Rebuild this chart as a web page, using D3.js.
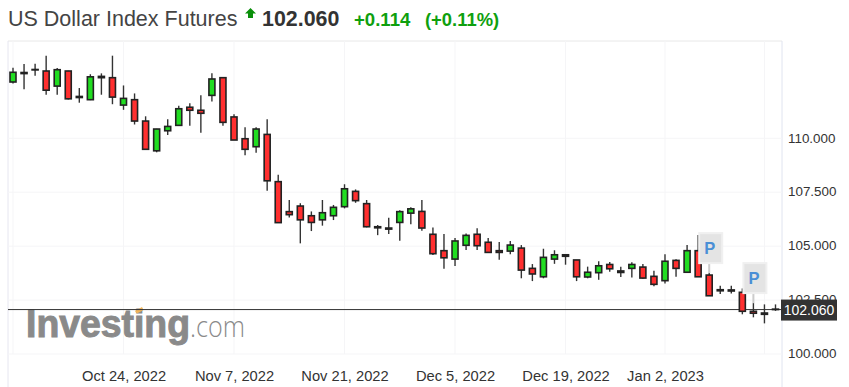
<!DOCTYPE html>
<html>
<head>
<meta charset="utf-8">
<script src="https://cdn.jsdelivr.net/npm/d3@7"></script>
<style>
  body { margin: 0; background: #fff; font-family: "Liberation Sans", Arial, sans-serif; }
</style>
</head>
<body>
<div id="wrapper"></div>
<script>
// one entry per trading day
const dates = ["Oct 10, 2022","Oct 11, 2022","Oct 12, 2022","Oct 13, 2022","Oct 14, 2022","Oct 17, 2022","Oct 18, 2022","Oct 19, 2022","Oct 20, 2022","Oct 21, 2022",
  "Oct 24, 2022","Oct 25, 2022","Oct 26, 2022","Oct 27, 2022","Oct 28, 2022","Oct 31, 2022","Nov 1, 2022","Nov 2, 2022","Nov 3, 2022","Nov 4, 2022",
  "Nov 7, 2022","Nov 8, 2022","Nov 9, 2022","Nov 10, 2022","Nov 11, 2022","Nov 14, 2022","Nov 15, 2022","Nov 16, 2022","Nov 17, 2022","Nov 18, 2022",
  "Nov 21, 2022","Nov 22, 2022","Nov 23, 2022","Nov 24, 2022","Nov 25, 2022","Nov 28, 2022","Nov 29, 2022","Nov 30, 2022","Dec 1, 2022","Dec 2, 2022",
  "Dec 5, 2022","Dec 6, 2022","Dec 7, 2022","Dec 8, 2022","Dec 9, 2022","Dec 12, 2022","Dec 13, 2022","Dec 14, 2022","Dec 15, 2022","Dec 16, 2022",
  "Dec 19, 2022","Dec 20, 2022","Dec 21, 2022","Dec 22, 2022","Dec 23, 2022","Dec 27, 2022","Dec 28, 2022","Dec 29, 2022","Dec 30, 2022",
  "Jan 2, 2023","Jan 3, 2023","Jan 4, 2023","Jan 5, 2023","Jan 6, 2023","Jan 9, 2023","Jan 10, 2023","Jan 11, 2023","Jan 12, 2023","Jan 16, 2023","Jan 17, 2023"];

const opens = [112.61,113.00,113.19,113.12,112.42,113.12,111.94,111.79,112.87,112.81,
  111.54,111.79,110.80,109.42,110.35,110.60,111.44,111.30,111.99,112.81,
  110.99,109.98,109.61,110.18,107.99,106.60,106.86,106.41,106.22,106.41,
  106.83,107.54,106.97,105.90,105.84,106.10,106.53,106.61,105.55,104.79,
  104.40,105.04,105.55,105.18,104.79,104.77,104.91,103.97,103.58,104.40,
  104.60,104.36,103.57,103.77,104.15,103.85,103.97,104.03,103.60,
  103.40,104.34,103.79,104.79,103.66,102.98,102.97,102.86,101.98,101.90,102.08];
const highs = [113.27,113.44,113.46,113.83,113.26,113.13,112.33,112.97,113.01,113.83,
  112.45,112.08,111.02,110.44,110.88,111.51,111.63,112.00,113.01,112.81,
  111.12,110.51,110.51,110.88,108.31,107.14,106.99,106.61,107.14,106.91,
  107.87,107.63,107.14,105.98,106.32,106.67,106.80,107.14,105.87,105.56,
  105.38,105.59,105.83,105.38,105.19,105.24,105.05,104.17,104.88,104.81,
  104.62,104.36,104.05,104.30,104.26,104.05,104.25,104.17,103.86,
  104.63,104.39,105.05,105.52,103.75,103.16,103.16,103.04,102.36,102.30,102.30];
const lows = [112.54,112.27,112.90,112.02,112.02,111.80,111.65,111.77,112.02,111.58,
  111.32,110.64,109.49,109.35,110.15,110.58,110.58,110.26,111.71,110.58,
  109.92,109.21,109.33,107.57,106.09,106.33,105.13,105.70,105.95,106.21,
  106.75,107.01,105.87,105.51,105.56,105.25,106.01,105.71,104.59,103.95,
  104.08,104.82,104.82,104.69,104.37,104.63,103.51,103.38,103.51,104.18,
  104.14,103.38,103.51,103.44,103.81,103.57,103.55,103.49,103.14,
  103.27,103.58,103.77,103.58,102.70,102.78,102.81,101.84,101.70,101.42,102.00];
const closes = [113.06,113.05,113.17,112.23,113.18,111.83,111.89,112.85,112.81,111.91,
  111.85,110.80,109.49,110.43,110.55,111.37,111.30,111.16,112.75,110.74,
  109.92,109.49,110.43,108.03,106.09,106.46,106.22,106.10,106.55,106.80,
  107.66,107.11,105.90,105.85,105.79,106.60,106.73,105.84,104.65,104.46,
  105.24,105.50,105.02,104.71,104.71,105.05,103.89,103.71,104.48,104.60,
  104.53,103.58,103.79,104.09,103.95,103.78,104.15,103.52,103.23,
  104.30,103.97,104.79,103.58,102.70,102.93,102.92,101.98,101.89,101.84,102.06];

const priceTicks = [100, 102.5, 105, 107.5, 110];
const dateTicks = ["Oct 24, 2022","Nov 7, 2022","Nov 21, 2022","Dec 5, 2022","Dec 19, 2022","Jan 2, 2023"];
const gridOnlyDates = ["Oct 10, 2022","Jan 16, 2023"];
const pinDates = ["Jan 6, 2023","Jan 12, 2023"];
const lastPrice = 102.06;

const width = 849, height = 387;
const plot = { left: 8, top: 41, right: 782, bottom: 354 };

const svg = d3.select("#wrapper").append("svg")
  .attr("width", width)
  .attr("height", height)
  .style("display", "block");

const x = d3.scalePoint().domain(dates).range([13, 775.5]);
const y = d3.scaleLinear().domain([100, 110]).range([plot.bottom, 138.3]);

// header
const title = svg.append("g").attr("font-family", '"Liberation Sans", Arial, sans-serif');
title.append("text").attr("x", 8).attr("y", 26).attr("font-size", 21.5).attr("fill", "#444")
  .text("US Dollar Index Futures");
title.append("path").attr("d", "M245 13.5L250.5 8L256 13.5H253V18H248V13.5Z").attr("fill", "#0a8f0a");
title.append("text").attr("x", 262).attr("y", 26).attr("font-size", 21.4).attr("font-weight", "bold").attr("fill", "#333")
  .text("102.060");
title.append("text").attr("x", 354).attr("y", 26).attr("font-size", 18.6).attr("font-weight", "bold").attr("fill", "#0ea00e")
  .text("+0.114");
title.append("text").attr("x", 425).attr("y", 26).attr("font-size", 18.4).attr("font-weight", "bold").attr("fill", "#0ea00e")
  .text("(+0.11%)");

// frame
svg.append("line").attr("x1", plot.left).attr("x2", plot.right).attr("y1", plot.top).attr("y2", plot.top)
  .attr("stroke", "#e8e8e8").attr("stroke-width", 1);
svg.append("line").attr("x1", plot.left).attr("x2", plot.left).attr("y1", plot.top).attr("y2", height)
  .attr("stroke", "#e6e6f0").attr("stroke-width", 1);
svg.append("line").attr("x1", plot.right).attr("x2", plot.right).attr("y1", plot.top).attr("y2", height)
  .attr("stroke", "#e0e4f0").attr("stroke-width", 1);

// grid
svg.append("g").selectAll("line")
  .data(priceTicks)
  .enter().append("line")
    .attr("x1", plot.left).attr("x2", plot.right)
    .attr("y1", (d) => y(d)).attr("y2", (d) => y(d))
    .attr("stroke", "#f5f5f7");
svg.append("g").selectAll("line")
  .data(dateTicks.concat(gridOnlyDates))
  .enter().append("line")
    .attr("x1", (d) => x(d)).attr("x2", (d) => x(d))
    .attr("y1", plot.top).attr("y2", plot.bottom)
    .attr("stroke", "#f5f5f7");

// watermark
const logo = svg.append("g");
logo.append("text").attr("x", 26).attr("y", 337)
  .attr("font-family", '"Liberation Sans", sans-serif').attr("font-weight", 700).attr("font-size", 38)
  .attr("textLength", 164).attr("lengthAdjust", "spacingAndGlyphs")
  .attr("fill", "#8a8a8a").attr("stroke", "#8a8a8a").attr("stroke-width", 1).text("Investing");
logo.append("path").attr("d", "M135 311L142 307L143.5 310L137 313.5Z").attr("fill", "#f0b45a");
logo.append("text").attr("x", 190).attr("y", 337)
  .attr("font-family", '"Open Sans", sans-serif').attr("font-weight", 300).attr("font-size", 30)
  .attr("textLength", 55).attr("lengthAdjust", "spacingAndGlyphs")
  .attr("fill", "#8a8a8a").text(".com");

// axes
const yAxis = svg.append("g")
  .attr("transform", `translate(${plot.right}, 0)`)
  .call(d3.axisRight(y).tickValues(priceTicks).tickSize(0).tickPadding(6).tickFormat(d3.format(".3f")));
yAxis.select(".domain").remove();
yAxis.selectAll("text")
  .attr("font-family", '"Liberation Sans", Arial, sans-serif').attr("font-size", 13.4).attr("fill", "#333")
  .attr("dy", "0.28em");

const xAxis = svg.append("g")
  .attr("transform", `translate(0, 371)`)
  .call(d3.axisBottom(x).tickValues(dateTicks).tickSize(0).tickPadding(0));
xAxis.select(".domain").remove();
xAxis.selectAll("text")
  .attr("font-family", '"Liberation Sans", Arial, sans-serif').attr("font-size", 14.7).attr("fill", "#333");

// last price line, under the candles
svg.append("line")
  .attr("x1", plot.left).attr("x2", plot.right)
  .attr("y1", y(lastPrice)).attr("y2", y(lastPrice))
  .attr("stroke", "#333").attr("stroke-width", 1);

// candles
const candles = svg.append("g").selectAll("g")
  .data(dates)
  .enter().append("g");

candles.append("line")
  .attr("x1", (d) => x(d)).attr("x2", (d) => x(d))
  .attr("y1", (d, i) => y(highs[i]))
  .attr("y2", (d, i) => y(lows[i]))
  .attr("stroke", "#333").attr("stroke-width", 1.4);

candles.append("rect")
  .attr("x", (d) => x(d) - 3)
  .attr("width", 6)
  .attr("y", (d, i) => y(Math.max(opens[i], closes[i])))
  .attr("height", (d, i) => Math.abs(y(opens[i]) - y(closes[i])))
  .attr("fill", (d, i) => closes[i] >= opens[i] ? "#21dd21" : "#ff2f2f")
  .attr("stroke", "#222").attr("stroke-width", 1.6);

// P pins
const pins = svg.append("g").selectAll("g")
  .data(pinDates)
  .enter().append("g");

const pinY = (d) => y(highs[dates.indexOf(d)]);

pins.append("line")
  .attr("x1", (d) => x(d)).attr("x2", (d) => x(d))
  .attr("y1", (d) => pinY(d) - 12).attr("y2", (d) => pinY(d))
  .attr("stroke", "#ccc").attr("stroke-width", 2);
pins.append("rect")
  .attr("x", (d) => x(d) - 10).attr("width", 23)
  .attr("y", (d) => pinY(d) - 40).attr("height", 30)
  .attr("fill", "#e4e4e4").attr("stroke", "#f0f0f0").attr("stroke-width", 2);
pins.append("text")
  .attr("x", (d) => x(d) + 0.5)
  .attr("y", (d) => pinY(d) - 19)
  .attr("text-anchor", "middle")
  .attr("font-size", 16.5).attr("font-weight", "bold").attr("fill", "#4a8fd6")
  .attr("font-family", '"Liberation Sans", Arial, sans-serif')
  .text("P");

// last price tag
svg.append("rect")
  .attr("x", plot.right - 1).attr("width", 56)
  .attr("y", y(lastPrice) - 10).attr("height", 21)
  .attr("fill", "#333");
svg.append("text")
  .attr("x", plot.right + 27).attr("y", y(lastPrice) + 5.5)
  .attr("text-anchor", "middle")
  .attr("font-size", 14).attr("fill", "#fff")
  .text(d3.format(".3f")(lastPrice));
</script>
</body>
</html>
